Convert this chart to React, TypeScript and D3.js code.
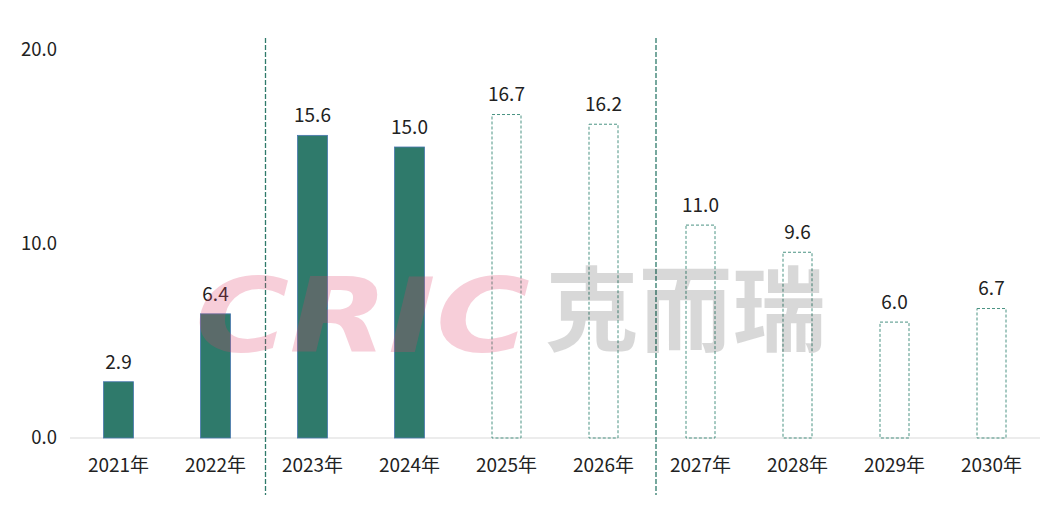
import React from "react";
import * as d3 from "d3";

const categories = ["2021年", "2022年", "2023年", "2024年", "2025年", "2026年", "2027年", "2028年", "2029年", "2030年"];
const values = [2.9, 6.4, 15.6, 15.0, 16.7, 16.2, 11.0, 9.6, 6.0, 6.7];
const forecast = [false, false, false, false, true, true, true, true, true, true];
const yTicks = [0, 10, 20];
const dividerAfter = [1, 5];

const W = 1057, H = 512;
const FONT = "'Noto Sans CJK SC', 'Noto Sans', sans-serif";

export default function App() {
  const x = d3.scaleBand<string>().domain(categories).range([70, 1040]).paddingInner(0).paddingOuter(0);
  const y = d3.scaleLinear().domain([0, 20]).range([438, 50]);
  const bw = 30;
  const green = "#2f7a6b";
  return (
    <svg width={W} height={H} style={{ position: "absolute", left: 0, top: 0, background: "#fff" }}>
      <line x1={70} x2={1040} y1={y(0)} y2={y(0)} stroke="#d9d9d9" strokeWidth={1} />
      {yTicks.map((t) => (
        <text key={t} x={57} y={y(t)} dy="0.35em" textAnchor="end" fontFamily={FONT} fontSize={18.5} fill="#222">
          {t.toFixed(1)}
        </text>
      ))}
      {categories.map((c, i) => {
        const cx = (x(c) as number) + x.bandwidth() / 2;
        const top = y(values[i]);
        return (
          <g key={c}>
            {forecast[i] ? (
              <rect x={cx - bw / 2 + 0.5} y={top + 0.5} width={bw - 1} height={y(0) - top - 0.5} fill="none" stroke="#4a9383" strokeWidth={1} strokeDasharray="3,2" />
            ) : (
              <rect x={cx - bw / 2} y={top} width={bw} height={y(0) - top} fill={green} stroke="#4a78b0" strokeWidth={0.8} />
            )}
            <text x={cx} y={top - 13} textAnchor="middle" fontFamily={FONT} fontSize={19} fill="#222">
              {values[i].toFixed(1)}
            </text>
            <text x={cx} y={465} dy="0.35em" textAnchor="middle" fontFamily={FONT} fontSize={19} fill="#222">
              {c}
            </text>
          </g>
        );
      })}
      {dividerAfter.map((i) => {
        const xx = (x(categories[i]) as number) + x.bandwidth() + (i === 1 ? 1.5 : 4);
        return <line key={i} x1={xx} x2={xx} y1={38} y2={495} stroke="#2f7a6b" strokeWidth={1.3} strokeDasharray="5,2" />;
      })}
      <g pointerEvents="none">
        <text x={195} y={352} fontFamily="'DejaVu Sans', sans-serif" fontWeight="bold" fontStyle="italic" fontSize={104} textLength={335} lengthAdjust="spacingAndGlyphs" fill="#e0406a" opacity={0.25}>
          CRIC
        </text>
        <text x={545} y={344} fontFamily={FONT} fontWeight="bold" fontSize={92} textLength={281} lengthAdjust="spacingAndGlyphs" fill="#000" opacity={0.15}>
          克而瑞
        </text>
      </g>
    </svg>
  );
}
